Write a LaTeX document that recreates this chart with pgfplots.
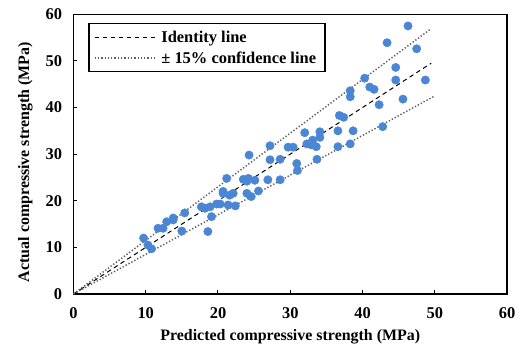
\documentclass[border=0pt]{standalone}
\usepackage{fontspec}
\setmainfont{Liberation Serif}
\usepackage{pgfplots}
\pgfplotsset{compat=1.18}
\definecolor{pt}{RGB}{74,134,212}
\definecolor{dotg}{RGB}{95,95,95}
\pgfplotstableread{
x y
9.7 12.0
10.3 10.5
10.8 9.7
11.7 14.1
12.4 14.1
12.9 15.5
13.8 15.9
13.8 16.3
15.0 13.5
15.4 17.4
17.7 18.7
18.2 18.4
18.9 18.7
18.6 13.4
19.1 16.6
19.8 19.3
20.3 19.3
20.7 21.6
20.7 22.0
21.2 24.8
21.4 19.1
21.6 21.2
22.1 21.6
22.4 18.9
23.5 24.6
24.0 24.2
24.2 24.8
24.3 29.8
24.0 21.6
24.6 20.9
25.1 24.4
25.6 22.1
26.9 24.5
27.2 28.8
27.2 31.8
28.6 28.9
28.6 24.5
29.7 31.5
30.4 31.5
30.9 28.0
31.0 26.5
32.0 34.6
32.3 32.2
32.9 32.0
33.1 33.0
33.6 31.6
33.7 28.9
34.1 34.8
34.1 33.6
36.6 35.0
36.6 31.6
36.8 38.3
37.4 37.9
38.3 43.6
38.3 42.3
38.3 32.2
38.7 35.0
40.3 46.3
41.0 44.4
41.6 43.9
42.3 40.6
42.8 35.9
43.4 53.9
44.6 48.6
44.6 45.9
45.6 41.8
46.3 57.5
47.5 52.6
48.7 45.9
}\data
\begin{document}
\begin{tikzpicture}
\useasboundingbox (-73.5bp,-51bp) rectangle (446.5bp,294bp);
\begin{axis}[at={(0,0)},anchor=south west,
  scale only axis, width=433.5bp, height=279.7bp,
  xmin=0,xmax=60,ymin=0,ymax=60,
  xtick={0,10,...,60}, ytick={0,10,...,60},
  tick align=inside, xtick pos=bottom, ytick pos=left,
  major tick length=4bp,
  axis line style={line width=1.5bp},
  tick style={line width=1bp, black},
  /pgf/number format/assume math mode=true,
  ticklabel style={font=\bfseries\fontsize{16.5}{19}\selectfont},
  yticklabel style={xshift=-8bp},
  xticklabel style={yshift=-10bp},
  label style={font=\bfseries\fontsize{16}{19}\selectfont},
  xlabel={Predicted compressive strength (MPa)},
  ylabel={Actual compressive strength (MPa)},
  xlabel style={yshift=-4bp},
  ylabel style={yshift=6bp, xshift=-8bp},
  legend cell align=left,
  legend style={at={(axis description cs:0.034,0.969)}, anchor=north west,
    draw=black, line width=1.3bp, font=\bfseries\fontsize{16.5}{19}\selectfont,
    inner xsep=5bp, inner ysep=5bp, row sep=4bp,
    nodes={inner xsep=4bp}},
  legend image code/.code={\draw[#1] (0bp,0bp) -- (56bp,0bp); \path (0bp,0bp) -- (62bp,0bp);},
]
\addplot[black, line width=1bp, dash pattern=on 4.5bp off 3.5bp] coordinates {(0,0) (49.5,49.5)};
\addlegendentry{Identity line}
\addplot[dotg, line width=1.5bp, dash pattern=on 1.3bp off 2bp] coordinates {(0,0) (49.5,56.925)};
\addlegendentry{± 15\% confidence line}
\addplot[dotg, line width=1.5bp, dash pattern=on 1.3bp off 2bp, forget plot] coordinates {(0,0) (50,42.5)};
\addplot[only marks, mark=*, mark size=4.2bp, color=pt, forget plot] table {\data};
\end{axis}
\end{tikzpicture}
\end{document}
